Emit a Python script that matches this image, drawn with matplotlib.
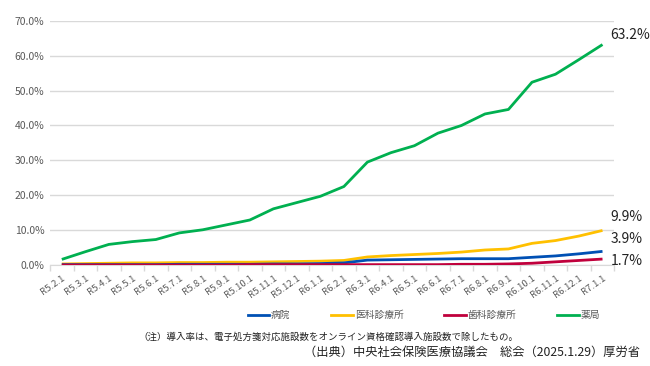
import matplotlib
matplotlib.use("Agg")
import matplotlib.pyplot as plt
import numpy as np

plt.rcParams['font.family'] = ['Noto Sans CJK JP', 'DejaVu Sans']

months = ["R5.2.1", "R5.3.1", "R5.4.1", "R5.5.1", "R5.6.1", "R5.7.1", "R5.8.1", "R5.9.1",
          "R5.10.1", "R5.11.1", "R5.12.1", "R6.1.1", "R6.2.1", "R6.3.1", "R6.4.1", "R6.5.1",
          "R6.6.1", "R6.7.1", "R6.8.1", "R6.9.1", "R6.10.1", "R6.11.1", "R6.12.1", "R7.1.1"]

hospital = [0.1, 0.1, 0.1, 0.1, 0.1, 0.2, 0.2, 0.2, 0.2, 0.3, 0.3, 0.4, 0.6, 1.4, 1.5, 1.6,
            1.7, 1.8, 1.8, 1.8, 2.2, 2.6, 3.2, 3.9]
clinic = [0.3, 0.4, 0.5, 0.6, 0.6, 0.7, 0.7, 0.8, 0.8, 0.9, 1.0, 1.1, 1.3, 2.3, 2.7, 3.0,
          3.3, 3.7, 4.3, 4.6, 6.2, 7.0, 8.3, 9.9]
dental = [0.0, 0.0, 0.0, 0.0, 0.0, 0.0, 0.0, 0.0, 0.1, 0.1, 0.1, 0.1, 0.1, 0.1, 0.1, 0.1,
          0.1, 0.2, 0.2, 0.3, 0.5, 0.9, 1.3, 1.7]
pharmacy = [1.6, 3.8, 5.9, 6.7, 7.3, 9.2, 10.1, 11.5, 12.9, 16.1, 17.9, 19.7, 22.5, 29.5,
            32.2, 34.2, 37.8, 40.0, 43.3, 44.6, 52.4, 54.7, 58.9, 63.2]

series = [("病院", hospital, "#0050B4"),
          ("医科診療所", clinic, "#FFC000"),
          ("歯科診療所", dental, "#C0003C"),
          ("薬局", pharmacy, "#00B050")]

# label heights (percent) for the end-of-line values
end_label_y = [66.0, 13.8, 7.4, 1.1]
end_label_txt = ["63.2%", "9.9%", "3.9%", "1.7%"]

fig = plt.figure(figsize=(6.5, 3.66), dpi=100)
ax = fig.add_axes([0.077, 0.276, 0.868, 0.667])

x = np.arange(len(months))

# draw so that lower series sit on top like the original
for name, vals, color in [series[3], series[1], series[0], series[2]]:
    ax.plot(x, np.array(vals) / 100.0, color=color, lw=2.0, solid_capstyle='butt', zorder=3)

ax.set_xlim(-0.5, len(months) - 0.5)
ax.set_ylim(0, 0.70)
ax.set_yticks(np.arange(0, 0.71, 0.1))
ax.set_yticklabels([f"{v:.1f}%" for v in np.arange(0, 71, 10)], fontsize=7.5, color="#595959")
ax.set_xticks(x)
ax.set_xticklabels(months, fontsize=6.8, color="#595959", rotation=35, ha='right',
                   rotation_mode='anchor')
ax.tick_params(axis='x', which='major', length=0, pad=6)
ax.set_xticks(np.arange(-0.5, len(months), 1), minor=True)
ax.tick_params(axis='x', which='minor', length=4, color="#d9d9d9", width=1)
ax.tick_params(axis='y', length=0, pad=4)

ax.grid(axis='y', color="#d9d9d9", lw=1)
ax.set_axisbelow(True)
for s in ["top", "right", "left"]:
    ax.spines[s].set_visible(False)
ax.spines["bottom"].set_color("#d9d9d9")

for yv, txt in zip(end_label_y, end_label_txt):
    ax.text(len(months) - 1 + 0.34, yv / 100.0, txt, fontsize=10, color="#222222",
            va='center', ha='left', clip_on=False)

handles = [plt.Line2D([], [], color=c, lw=2.0) for _, _, c in series]
fig.legend(handles, [n for n, _, _ in series], loc='center', bbox_to_anchor=(0.652, 0.139),
           ncol=4, frameon=False, fontsize=7, labelcolor="#595959", handlelength=2.2,
           handletextpad=0.2, columnspacing=4.2)

fig.text(0.797, 0.079, "（注）導入率は、電子処方箋対応施設数をオンライン資格確認導入施設数で除したもの。",
         fontsize=6.8, ha='right', va='center', color="#222222")
fig.text(0.985, 0.036, "（出典）中央社会保険医療協議会　総会（2025.1.29）厚労省",
         fontsize=8.8, ha='right', va='center', color="#222222")

fig.savefig("out.png", dpi=100)
